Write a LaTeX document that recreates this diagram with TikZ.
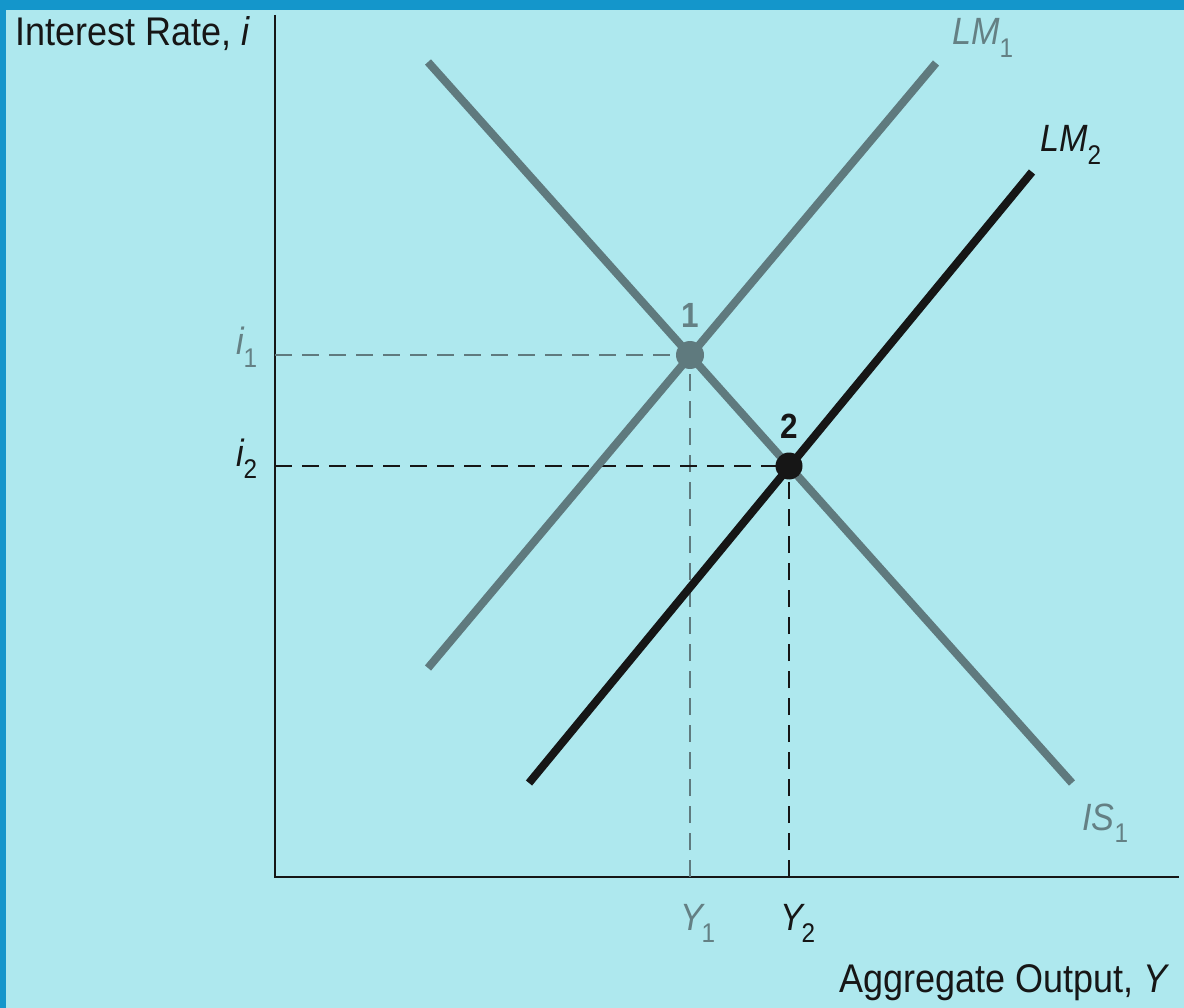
\documentclass[tikz,border=0pt]{standalone}
\usepackage{fontspec}
\setmainfont{Liberation Sans}
\definecolor{bgc}{RGB}{174,232,238}
\definecolor{bordc}{RGB}{20,150,203}
\definecolor{curvegray}{RGB}{95,122,126}
\definecolor{textgray}{RGB}{100,128,132}
\definecolor{ink}{RGB}{22,22,22}
\newcommand\lsub[1]{\raisebox{-0.32em}{\fontsize{27}{27}\selectfont #1}}
\tikzset{
  curve/.style={line width=8pt, line cap=butt},
  axisline/.style={line width=2.4pt, draw=ink},
  guide/.style={line width=2pt, dash pattern=on 17pt off 10pt},
  lab/.style={inner sep=0pt, font=\fontsize{38}{38}\selectfont, xscale=0.9, transform shape},
  biglab/.style={inner sep=0pt, font=\fontsize{40}{40}\selectfont, xscale=0.9, transform shape},
  numlab/.style={inner sep=0pt, font=\fontsize{35}{35}\selectfont\bfseries, xscale=0.9, transform shape},
  dot/.style={circle, inner sep=0pt, minimum size=#1}
}
\begin{document}
\begin{tikzpicture}[x=1pt, y=-1pt]
\useasboundingbox (0,0) rectangle (1184,1008);
\fill[bgc] (0,0) rectangle (1184,1008);
\fill[bordc] (0,0) rectangle (1184,10);
\fill[bordc] (0,0) rectangle (6,1008);

% axes
\coordinate (O) at (275,877);
\coordinate (ytop) at (275,15);
\coordinate (xend) at (1179,877);
\draw[axisline] (ytop) -- (O) -- (xend);

% curve endpoints
\coordinate (lm1a) at (428,668);
\coordinate (lm1b) at (936,63);
\coordinate (isa) at (428,62);
\coordinate (isb) at (1072,783);
\coordinate (lm2a) at (529,783);
\coordinate (lm2b) at (1032,172);

% equilibrium points
\coordinate (e1) at (690,355);
\coordinate (e2) at (789,466);
\coordinate (ax1) at (275,355);
\coordinate (ax2) at (275,466);
\coordinate (bx1) at (690,877);
\coordinate (bx2) at (789,877);

% guide lines
\draw[guide, draw=curvegray, line width=1.8pt] (ax1) -- (e1);
\draw[guide, draw=curvegray, line width=1.8pt] (bx1) -- (e1);
\draw[guide, draw=ink] (ax2) -- (e2);
\draw[guide, draw=ink] (bx2) -- (e2);

% curves
\draw[curve, draw=curvegray] (isa) -- (isb);
\draw[curve, draw=curvegray] (lm1a) -- (lm1b);
\draw[curve, draw=ink] (lm2a) -- (lm2b);

% dots
\node[dot=28pt, fill=curvegray] (p1) at (e1) {};
\node[dot=27pt, fill=ink] (p2) at (e2) {};

% labels
\node[biglab, anchor=base west, text=ink] (ylab) at (15,46) {Interest Rate, \textit{i}};
\node[biglab, anchor=base east, text=ink] (xlab) at (1170,992) {Aggregate Output, \textit{Y}};
\node[lab, anchor=base west, text=textgray] (lm1lab) at (952,45) {\textit{LM}\lsub{1}};
\node[lab, anchor=base west, text=ink] (lm2lab) at (1040,152) {\textit{LM}\lsub{2}};
\node[lab, anchor=base west, text=textgray] (islab) at (1082,830) {\textit{IS}\lsub{1}};
\node[lab, anchor=base west, text=textgray] (i1lab) at (236,355) {\textit{i}\kern-0.03em\lsub{1}};
\node[lab, anchor=base west, text=ink] (i2lab) at (236,466) {\textit{i}\kern-0.03em\lsub{2}};
\node[lab, anchor=base west, text=textgray] (y1lab) at (680,930) {\textit{Y}\kern-0.1em\lsub{1}};
\node[lab, anchor=base west, text=ink] (y2lab) at (780,930) {\textit{Y}\kern-0.1em\lsub{2}};
\node[numlab, anchor=base, text=textgray] (n1) at (690,328) {1};
\node[numlab, anchor=base, text=ink] (n2) at (789,438) {2};
\end{tikzpicture}
\end{document}
